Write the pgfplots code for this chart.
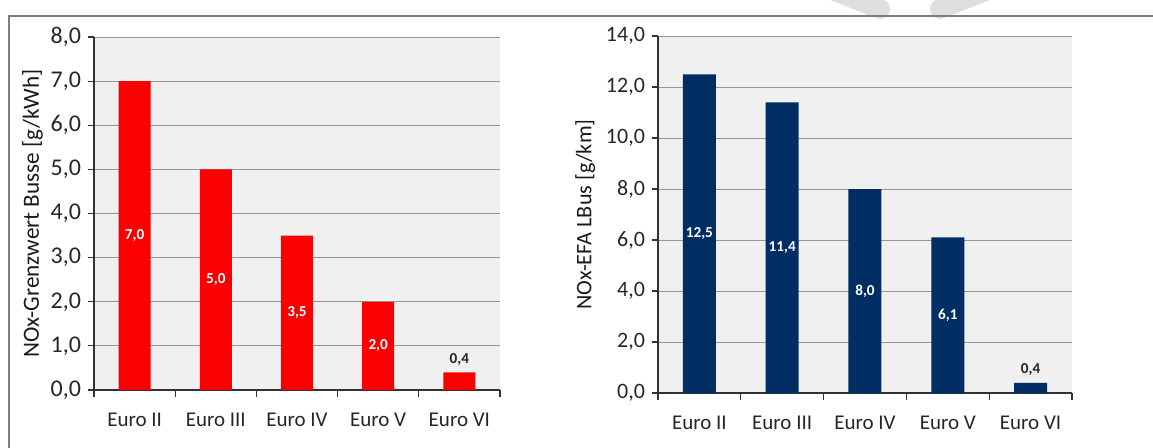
\documentclass[border=0pt]{standalone}
\usepackage{pgfplots}
\pgfplotsset{compat=1.18}
\usepackage{fontspec}
\setmainfont{Carlito}

\definecolor{barred}{RGB}{250,0,0}
\definecolor{barnavy}{RGB}{0,45,98}
\definecolor{plotbg}{RGB}{240,240,240}
\definecolor{gridgray}{RGB}{150,150,150}
\definecolor{axisgray}{RGB}{50,50,50}
\definecolor{framegray}{RGB}{125,125,125}

\pgfplotsset{
  euro/.style={
    scale only axis,
    xmin=-0.5, xmax=4.5, ymin=0,
    axis x line*=bottom, axis y line*=left,
    axis line style={axisgray, line width=0.6pt, -},
    axis background/.style={fill=plotbg},
    ymajorgrids, grid style={gridgray, line width=0.5pt},
    xtick={0,...,4},
    xticklabels={Euro II,Euro III,Euro IV,Euro V,Euro VI},
    minor xtick={-0.5,0.5,...,4.5},
    tick align=outside,
    major tick length=3pt, minor tick length=3.5pt,
    tick style={axisgray, line width=0.6pt},
    major x tick style={draw=none},
    tick label style={text=black!85},
    xticklabel style={font=\fontsize{10.5}{12}\selectfont, yshift=-5pt},
    label style={text=black!90},
    valin/.style={only marks, mark=none, point meta=explicit, nodes near coords,
      every node near coord/.append style={anchor=center, text=white,
        font=\fontsize{7.6}{8}\selectfont\bfseries}},
    valtop/.style={only marks, mark=none, point meta=explicit, nodes near coords,
      every node near coord/.append style={anchor=south, text=black!85,
        font=\fontsize{7.6}{8}\selectfont\bfseries}},
    /pgf/number format/.cd, fixed, fixed zerofill, precision=1, use comma,
      assume math mode=true,
  },
}

\begin{document}
\begin{tikzpicture}
\useasboundingbox (0,0) rectangle (576.5pt,223.5pt);
\draw[line width=10pt, color=black!13, line cap=round] (417.5pt,228pt) -- (440pt,219pt);
\draw[line width=10pt, color=black!13, line cap=round] (492.5pt,228pt) -- (470pt,219pt);
\draw[framegray, line width=1pt] (4.5pt,-2pt) -- (4.5pt,215.7pt) -- (580pt,215.7pt);

% left: NOx limit values
\begin{axis}[euro,
  at={(47pt,28.5pt)}, anchor=south west,
  width=203pt, height=176.5pt,
  ymax=8, ytick={0,1,...,8},
  yticklabel style={font=\fontsize{12}{14}\selectfont},
  ylabel style={font=\fontsize{11.6}{13}\selectfont},
  ylabel shift=-3pt,
  ylabel={NOx-Grenzwert Busse [g/kWh]},
]
\addplot[ybar, bar width=16pt, fill=barred, draw=none]
  coordinates {(0,7.0) (1,5.0) (2,3.5) (3,2.0) (4,0.4)};
\addplot[valin] coordinates {(0,3.5)[7.0] (1,2.5)[5.0] (2,1.75)[3.5] (3,1.0)[2.0]};
\addplot[valtop] coordinates {(4,0.4)[0.4]};
\end{axis}

% right: NOx emission factors city bus
\begin{axis}[euro,
  at={(329pt,27pt)}, anchor=south west,
  width=207pt, height=178.5pt,
  ymax=14, ytick={0,2,...,14},
  yticklabel style={font=\fontsize{11}{13}\selectfont},
  ylabel style={font=\fontsize{11.1}{13}\selectfont},
  ylabel shift=-1.5pt,
  ylabel={NOx-EFA LBus [g/km]},
]
\addplot[ybar, bar width=16.5pt, fill=barnavy, draw=none]
  coordinates {(0,12.5) (1,11.4) (2,8.0) (3,6.1) (4,0.4)};
\addplot[valin] coordinates {(0,6.25)[12.5] (1,5.7)[11.4] (2,4.0)[8.0] (3,3.05)[6.1]};
\addplot[valtop] coordinates {(4,0.4)[0.4]};
\end{axis}
\end{tikzpicture}
\end{document}
